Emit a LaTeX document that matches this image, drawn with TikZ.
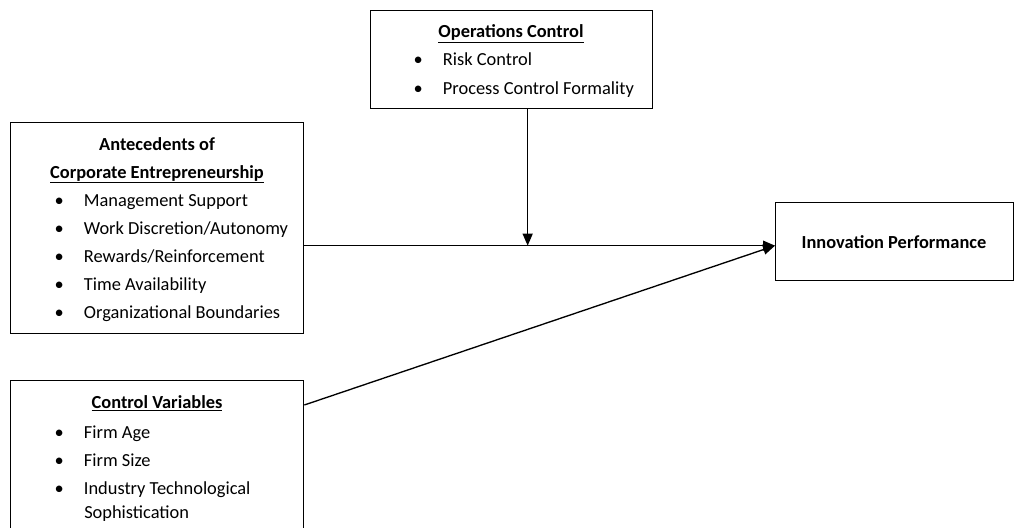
\documentclass[tikz,border=0pt]{standalone}
\usepackage{fontspec}
\setmainfont{Carlito}
\usetikzlibrary{arrows.meta,positioning}

\newcommand{\bul}{\makebox[20pt][l]{\hspace{-2pt}\textbullet}}

\begin{document}
\begin{tikzpicture}[
  x=0.75pt, y=-0.75pt,
  font=\fontsize{13.8}{21}\selectfont,
  box/.style={draw, line width=1pt, inner sep=0pt, anchor=north west},
  head/.style={font=\fontsize{13.8}{21}\selectfont\bfseries, anchor=base, inner sep=0pt},
  item/.style={anchor=base west, inner sep=0pt},
  arr/.style={-{Triangle[length=9pt,width=7.5pt]}, line width=1pt}
]
  \useasboundingbox (0,0) rectangle (1024,528);
  \clip (0,0) rectangle (1024,528);

  % boxes
  \node[box, minimum width=211.5pt, minimum height=73.5pt] (ops) at (370,10) {};
  \node[box, minimum width=219.75pt, minimum height=158.25pt] (ant) at (10,122) {};
  \node[box, minimum width=219.75pt, minimum height=135pt] (cv) at (10,380) {};
  \node[box, minimum width=178.5pt, minimum height=58.5pt] (innov) at (775,202) {};
  \coordinate (target) at ([yshift=-3pt]innov.west);

  % operations control
  \node[head] (opshead) at (511,38) {\underline{Operations Control}};
  \node[item] (ops1) at (416,66) {\bul Risk Control};
  \node[item] (ops2) at (416,94) {\bul Process Control Formality};

  % antecedents
  \node[head] (anthead) at (157,150) {Antecedents of};
  \node[head] (anthead2) at (157,178) {\underline{Corporate Entrepreneurship}};
  \foreach \txt [count=\i] in {Management Support, Work Discretion/Autonomy,
      Rewards/Reinforcement, Time Availability, Organizational Boundaries}
    \node[item] (ant\i) at (57,178+28*\i) {\bul\txt};

  % control variables
  \node[head] (cvhead) at (157,408) {\underline{Control Variables}};
  \node[item] (cv1) at (57,438) {\bul Firm Age};
  \node[item] (cv2) at (57,466) {\bul Firm Size};
  \node[item] (cv3) at (57,494) {\bul Industry Technological};
  \node[item] (cv4) at (84,518) {Sophistication};

  % outcome
  \node[head] (innovtxt) at (894,248) {Innovation Performance};

  % arrows
  \draw[arr] (ant.east |- target) -- (target);
  \draw[arr] ([xshift=12pt]ops.south) -- ([xshift=12pt]ops.south |- target);
  \draw[arr] ([yshift=-18.75pt]cv.north east) -- (target);
\end{tikzpicture}
\end{document}
